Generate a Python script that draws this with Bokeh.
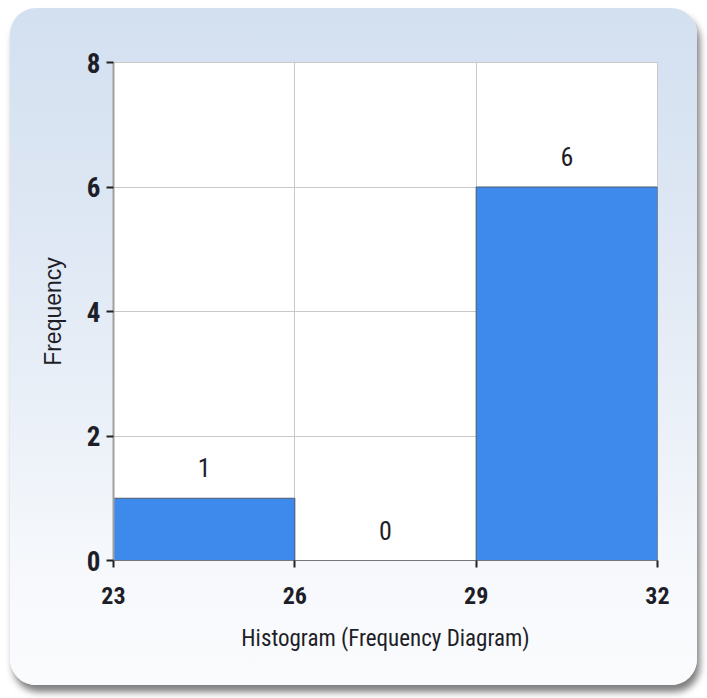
import numpy as np
from bokeh.plotting import figure
from bokeh.models import FixedTicker, ColumnDataSource, LabelSet
from bokeh.core.properties import value
from bokeh.embed import file_html
from bokeh.resources import INLINE

# ---- data ----
bin_left = [23, 26, 29]
bin_right = [26, 29, 32]
counts = [1, 0, 6]
x_ticks = [23, 26, 29, 32]
y_ticks = [0, 2, 4, 6, 8]
x_title = "Histogram (Frequency Diagram)"
y_title = "Frequency"

NARROW = "'Roboto Condensed', 'Liberation Sans Narrow', 'DejaVu Sans Condensed', Roboto, sans-serif"
TXT = "#1e1e28"

p = figure(
    width=687, height=677,
    x_range=(23, 32), y_range=(0, 8),
    output_backend="svg", toolbar_location=None,
    min_border_left=103, min_border_top=54,
    min_border_right=40, min_border_bottom=125,
)
p.styles = {
    "background": "linear-gradient(to bottom, #d3e0f0 0%, #dfe8f4 35%, #edf2f9 65%, #f7f9fc 85%, #fafbfd 100%)",
    "border-radius": "26px",
    "box-shadow": "3px 7px 7px rgba(0,0,0,0.5)",
    "margin-left": "10px",
    "margin-top": "8px",
}
p.border_fill_color = None
p.background_fill_color = "white"
p.outline_line_color = "#c8c8c8"
p.outline_line_width = 1

src = ColumnDataSource(dict(
    left=bin_left, right=bin_right, top=counts, bottom=[0] * len(counts),
    xc=[(a + b) / 2 for a, b in zip(bin_left, bin_right)],
    lab=[str(c) for c in counts],
))

p.quad(left="left", right="right", top="top", bottom="bottom", source=src,
       fill_color="#3e8aec", line_color="#4d5a6a", line_width=1)

labels = LabelSet(x="xc", y="top", text="lab", source=src,
                  text_align="center", text_baseline="bottom", y_offset=21,
                  text_font=value(NARROW), text_font_size=value("26px"),
                  text_color=value(TXT))
p.add_layout(labels)

# grids
p.xgrid.ticker = FixedTicker(ticks=x_ticks)
p.ygrid.ticker = FixedTicker(ticks=y_ticks)
for g in (p.xgrid, p.ygrid):
    g.grid_line_color = "#c8c8c8"
    g.grid_line_width = 1

# x axis
xa = p.xaxis[0]
xa.ticker = FixedTicker(ticks=x_ticks)
xa.axis_label = x_title
xa.axis_label_text_font = NARROW
xa.axis_label_text_font_size = "23px"
xa.axis_label_text_font_style = "normal"
xa.axis_label_text_color = TXT
xa.axis_label_standoff = 18
xa.major_label_text_font = NARROW
xa.major_label_text_font_size = "24px"
xa.major_label_text_font_style = "bold"
xa.major_label_text_color = TXT
xa.major_label_standoff = 19
xa.axis_line_color = "#777777"
xa.axis_line_width = 1
xa.major_tick_line_color = "#222222"
xa.major_tick_line_width = 2
xa.major_tick_out = 7
xa.major_tick_in = 0
xa.minor_tick_line_color = None

# y axis
ya = p.yaxis[0]
ya.ticker = FixedTicker(ticks=y_ticks)
ya.axis_label = y_title
ya.axis_label_text_font = "Liberation Sans"
ya.axis_label_text_font_size = "23px"
ya.axis_label_text_font_style = "normal"
ya.axis_label_text_color = TXT
ya.axis_label_standoff = 18
ya.major_label_text_font = NARROW
ya.major_label_text_font_size = "27px"
ya.major_label_text_font_style = "bold"
ya.major_label_text_color = TXT
ya.major_label_standoff = 6
ya.axis_line_color = "#a0a0a0"
ya.axis_line_width = 2
ya.major_tick_line_color = "#222222"
ya.major_tick_line_width = 2
ya.major_tick_out = 7
ya.major_tick_in = 0
ya.minor_tick_line_color = None

open("out.html", "w").write(file_html(p, INLINE))
